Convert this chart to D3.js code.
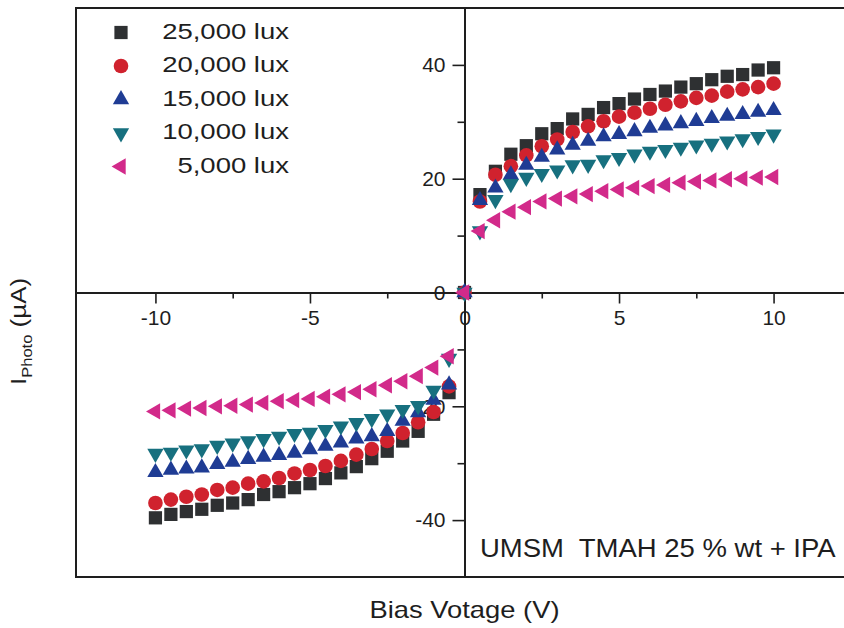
<!DOCTYPE html>
<html>
<head>
<meta charset="utf-8">
<script src="https://cdn.jsdelivr.net/npm/d3@7/dist/d3.min.js"></script>
<style>
  html, body { margin: 0; padding: 0; background: #fff; overflow: hidden; }
  text { font-family: "Liberation Sans", Arial, Helvetica, sans-serif; fill: #1e1e1e; }
</style>
</head>
<body>
<svg id="chart" width="844" height="628"></svg>
<script>
// Bias voltage sweep (V)
const biasVoltage = [
  -10, -9.5, -9, -8.5, -8, -7.5, -7, -6.5, -6, -5.5, -5, -4.5, -4, -3.5, -3, -2.5, -2, -1.5, -1, -0.5,
  0,
  0.5, 1, 1.5, 2, 2.5, 3, 3.5, 4, 4.5, 5, 5.5, 6, 6.5, 7, 7.5, 8, 8.5, 9, 9.5, 10
];

// Photocurrent (µA) for each illuminance
const photo25000 = [
  -39.6, -39.0, -38.5, -38.1, -37.4, -37.0, -36.4, -35.5, -35.0, -34.3, -33.6, -32.7, -31.7, -30.6, -29.2, -27.9, -26.1, -24.4, -21.4, -17.6,
  0,
  17.2, 21.3, 24.3, 25.8, 27.9, 28.8, 30.5, 31.3, 32.5, 33.2, 34.0, 34.8, 35.4, 36.1, 36.7, 37.4, 38.0, 38.3, 39.1, 39.5
];
const photo20000 = [
  -37.0, -36.4, -35.9, -35.5, -34.7, -34.3, -33.6, -33.2, -32.6, -31.8, -31.2, -30.5, -29.6, -28.5, -27.5, -26.1, -24.7, -22.8, -21.0, -16.5,
  0,
  16.0, 20.7, 22.2, 24.1, 25.7, 26.9, 28.2, 29.2, 30.1, 30.9, 31.6, 32.3, 33.0, 33.6, 34.2, 34.6, 35.3, 35.7, 36.1, 36.7
];
const photo15000 = [
  -31.6, -31.2, -31.0, -30.8, -30.2, -29.8, -29.3, -28.9, -28.6, -28.2, -27.6, -27.0, -26.4, -25.7, -25.3, -24.4, -22.6, -21.1, -18.9, -16.2,
  0,
  16.2, 18.4, 20.7, 22.4, 23.8, 25.1, 25.9, 26.6, 27.4, 27.8, 28.3, 28.9, 29.3, 29.7, 30.1, 30.6, 31.0, 31.3, 31.7, 32.0
];
const photo10000 = [
  -28.3, -28.1, -27.7, -27.5, -26.9, -26.5, -26.1, -25.7, -25.3, -24.8, -24.6, -24.1, -23.5, -22.9, -22.2, -21.4, -20.6, -19.9, -17.2, -11.6,
  0,
  10.8, 16.3, 19.1, 20.2, 20.9, 21.5, 22.4, 22.5, 23.3, 23.7, 24.3, 24.8, 25.1, 25.5, 25.9, 26.2, 26.6, 27.0, 27.4, 27.8
];
const photo5000 = [
  -20.9, -20.7, -20.4, -20.3, -20.0, -19.9, -19.7, -19.4, -19.1, -18.9, -18.7, -18.3, -17.9, -17.5, -17.0, -16.3, -15.6, -14.7, -13.2, -11.2,
  0,
  10.8, 12.7, 14.2, 15.0, 16.0, 16.5, 16.9, 17.3, 17.8, 18.1, 18.4, 18.7, 18.9, 19.3, 19.5, 19.7, 19.9, 20.0, 20.2, 20.3
];

const seriesLabels = ["25,000 lux", "20,000 lux", "15,000 lux", "10,000 lux", "5,000 lux"];
const seriesValues = [photo25000, photo20000, photo15000, photo10000, photo5000];

const xMajorTicks = [-10, -5, 0, 5, 10];
const xMinorTicks = [-7.5, -2.5, 2.5, 7.5];
const yMajorTicks = [-40, -20, 0, 20, 40];
const yMinorTicks = [-30, -10, 10, 30];

const xTitle = "Bias Votage (V)";
const noteText = "UMSM  TMAH 25 % wt + IPA";

// Marker appearance per series
const markerColors = ["#2e3032", "#d0222e", "#1f3c94", "#17707f", "#d22a8a"];
const markerShapes = [
  { type: d3.symbolSquare,   size: 175, rotate: 0 },
  { type: d3.symbolCircle,   size: 168, rotate: 0 },
  { type: d3.symbolTriangle, size: 115, rotate: 0 },
  { type: d3.symbolTriangle, size: 115, rotate: 180 },
  { type: d3.symbolTriangle, size: 115, rotate: -90 }
];

const svg = d3.select("#chart");
const frame = { left: 76, top: 8, right: 853, bottom: 577 };

const x = d3.scaleLinear().domain([-12.57, 12.57]).range([frame.left, frame.right]);
const y = d3.scaleLinear().domain([-50, 50]).range([frame.bottom, frame.top]);

const ink = "#1e1e1e";

// Plot frame
svg.append("rect")
  .attr("x", frame.left).attr("y", frame.top)
  .attr("width", frame.right - frame.left).attr("height", frame.bottom - frame.top)
  .attr("fill", "none").attr("stroke", ink).attr("stroke-width", 2);

const fmt = d => String(d);

// X axis through the origin, ticks hanging below
const xAxisG = svg.append("g")
  .attr("transform", `translate(0,${y(0)})`)
  .call(d3.axisBottom(x).tickValues(xMajorTicks).tickFormat(fmt).tickSize(11).tickPadding(7).tickSizeOuter(0));
xAxisG.selectAll(".tick").filter(d => d === 0).select("line").remove();
svg.append("g")
  .attr("transform", `translate(0,${y(0)})`)
  .call(d3.axisBottom(x).tickValues(xMinorTicks).tickFormat("").tickSize(6).tickSizeOuter(0))
  .select(".domain").remove();

// Y axis through the origin, ticks pointing left
const yAxisG = svg.append("g")
  .attr("transform", `translate(${x(0)},0)`)
  .call(d3.axisLeft(y).tickValues(yMajorTicks).tickFormat(fmt).tickSize(12).tickPadding(7).tickSizeOuter(0));
svg.append("g")
  .attr("transform", `translate(${x(0)},0)`)
  .call(d3.axisLeft(y).tickValues(yMinorTicks).tickFormat("").tickSize(7).tickSizeOuter(0))
  .select(".domain").remove();

svg.selectAll(".domain").attr("stroke", ink).attr("stroke-width", 2);
svg.selectAll(".tick line").attr("stroke", ink).attr("stroke-width", 1.6);
svg.selectAll(".tick text")
  .attr("fill", ink)
  .style("font-family", "'Liberation Sans', Arial, sans-serif")
  .style("font-size", "21px");

// Data markers
const symbolPath = (s) => d3.symbol().type(s.type).size(s.size)();
seriesValues.forEach((vals, i) => {
  const s = markerShapes[i];
  svg.append("g")
    .selectAll("path")
    .data(biasVoltage.map((v, k) => [v, vals[k]]))
    .join("path")
    .attr("d", symbolPath(s))
    .attr("fill", markerColors[i])
    .attr("transform", d => `translate(${x(d[0])},${y(d[1])}) rotate(${s.rotate})`);
});

// Legend
const legendX = 121, legendY0 = 32.5, legendStep = 33.5, legendTextX = 289;
const legend = svg.append("g");
seriesLabels.forEach((lab, i) => {
  const s = markerShapes[i];
  const cy = legendY0 + i * legendStep;
  legend.append("path")
    .attr("d", symbolPath(s))
    .attr("fill", markerColors[i])
    .attr("transform", `translate(${legendX},${cy}) rotate(${s.rotate})`);
  legend.append("text")
    .attr("text-anchor", "end")
    .style("font-size", "22px")
    .attr("transform", `translate(${legendTextX},${cy + 6}) scale(1.25,1)`)
    .text(lab);
});

// Axis titles
svg.append("text")
  .attr("text-anchor", "middle")
  .style("font-size", "23px")
  .attr("transform", `translate(${x(0)},618) scale(1.19,1)`)
  .text(xTitle);

const yTitle = svg.append("text")
  .style("font-size", "22px")
  .attr("transform", `translate(26,385) rotate(-90) scale(1.18,1)`);
yTitle.append("tspan").text("I");
yTitle.append("tspan").attr("dy", 6).style("font-size", "14px").text("Photo");
yTitle.append("tspan").attr("dy", -6).text(" (\u00b5A)");

// Sample annotation
svg.append("text")
  .style("font-size", "25px")
  .style("white-space", "pre")
  .attr("xml:space", "preserve")
  .attr("transform", `translate(480,557) scale(1.1,1)`)
  .text(noteText);
</script>
</body>
</html>
